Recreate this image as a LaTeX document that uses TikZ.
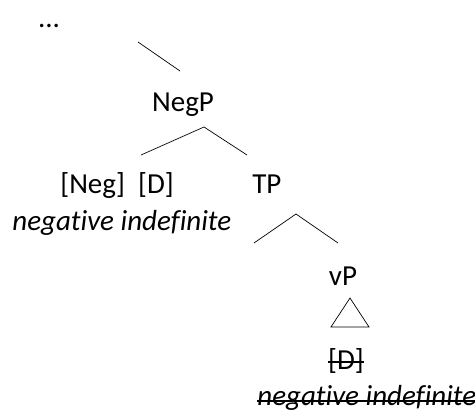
\documentclass[tikz,border=0pt]{standalone}
\usepackage{fontspec}
\setmainfont{Carlito}[Ligatures=NoCommon]
\tikzset{
    label text/.style={font=\fontsize{29}{34}\selectfont, inner sep=0pt},
    struck/.style={line width=1.5pt}
}
\begin{document}
\begin{tikzpicture}[x=1pt,y=-1pt,line width=0.7pt]
        \useasboundingbox (0,0) rectangle (475,412);
        % labels
        \node[label text,anchor=base] (dots) at (49,28) {...};
        \node[label text,anchor=base] (negp) at (183,112) {NegP};
        \node[label text,anchor=base west] (negd) at (60,194) {[Neg]\ \ [D]};
        \node[label text,anchor=base west] (tp) at (252,194) {TP};
        \node[label text,anchor=base west] (negind) at (12,230) {\itshape negative indefinite};
        \node[label text,anchor=base] (vp) at (343,285) {vP};
        \node[label text,anchor=base] (dlow) at (346,370) {[D]};
        \node[label text,anchor=base west] (negindlow) at (257,406) {\itshape negative indefinite};
        % branch ends
        \coordinate (top1) at (138,42);
        \coordinate (top2) at (180,71);
        \coordinate (negtop) at (204,127);
        \coordinate (negl) at (141,155);
        \coordinate (negr) at (247,155);
        \coordinate (tptop) at (296,214);
        \coordinate (tpl) at (254,243);
        \coordinate (tpr) at (338,243);
        \coordinate (tri) at (350,298);
        \coordinate (tril) at (331,327);
        \coordinate (trir) at (369,327);
        % branches
        \draw (top1) -- (top2);
        \draw (negl) -- (negtop) -- (negr);
        \draw (tpl) -- (tptop) -- (tpr);
        \draw (tri) -- (tril) -- (trir) -- cycle;
        % strike-through
        \draw[struck] ([yshift=8pt]dlow.base west) -- ([yshift=8pt]dlow.base east);
        \draw[struck] ([yshift=5pt]negindlow.base west) -- ([yshift=5pt]negindlow.base east);
    \end{tikzpicture}
\end{document}
